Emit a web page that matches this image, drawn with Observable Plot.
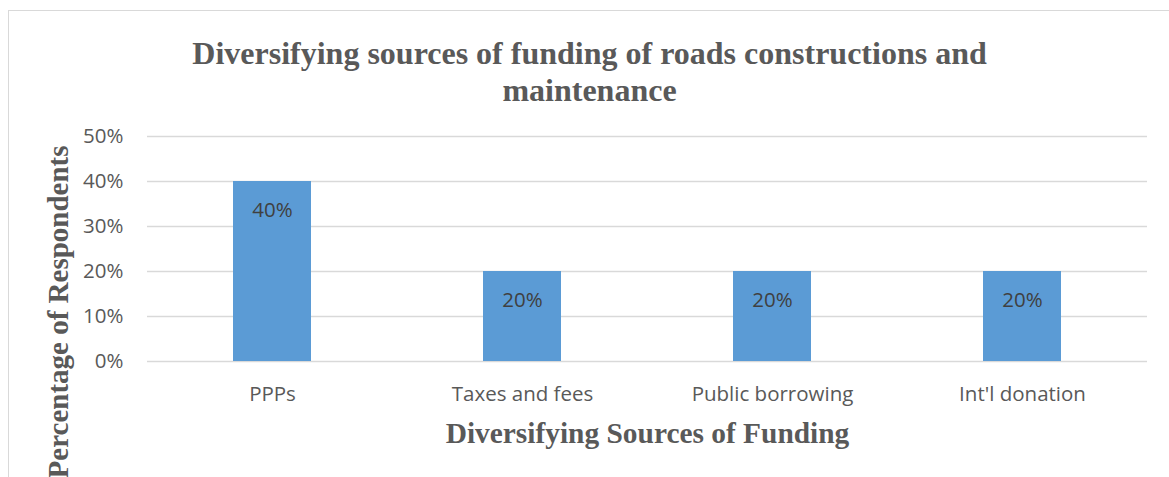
<!DOCTYPE html>
<html>
<head>
<meta charset="utf-8">
<script src="https://cdn.jsdelivr.net/npm/d3@7"></script>
<script src="https://cdn.jsdelivr.net/npm/@observablehq/plot@0.6"></script>
<style>
  html, body { margin: 0; padding: 0; background: #fff; }
  #wrap { position: relative; width: 1169px; height: 477px; overflow: hidden; }
  #frame { position: absolute; left: 7.5px; top: 9.5px; width: 1200px; height: 500px;
           border-left: 1.5px solid #d9d9d9; border-top: 1.5px solid #d9d9d9; pointer-events: none; }
</style>
</head>
<body>
<div id="wrap"><div id="frame"></div></div>
<script>
const categories = ["PPPs", "Taxes and fees", "Public borrowing", "Int'l donation"];
const values = [0.40, 0.20, 0.20, 0.20];
const yTicks = [0, 0.1, 0.2, 0.3, 0.4, 0.5];
const titleText = "Diversifying sources of funding of roads constructions and\nmaintenance";
const xTitle = "Diversifying Sources of Funding";
const yTitle = "Percentage of Respondents";

const data = categories.map((c, i) => ({category: c, value: values[i]}));
const pct = d3.format(".0%");
const serif = "'Liberation Serif', 'Times New Roman', serif";

const chart = Plot.plot({
  width: 1169,
  height: 477,
  marginLeft: 147,
  marginRight: 22,
  marginTop: 136,
  marginBottom: 116,
  style: {fontFamily: "'Open Sans', sans-serif", fontSize: "20.5px", color: "#595959", background: "transparent", overflow: "visible"},
  x: {domain: categories, paddingInner: 0.688, paddingOuter: 0.344},
  y: {domain: [0, 0.5]},
  marks: [
    Plot.gridY(yTicks, {stroke: "#d9d9d9", strokeOpacity: 1, strokeWidth: 1.5}),
    Plot.barY(data, {x: "category", y: "value", fill: "#5b9bd5"}),
    Plot.text(data, {x: "category", y: "value", text: d => pct(d.value), dy: 29, fill: "#404040", fontSize: 20.5}),
    Plot.axisY(yTicks, {tickFormat: pct, tickSize: 0, tickPadding: 24, label: null, fill: "#595959", fontSize: 20.5}),
    Plot.axisX({tickSize: 0, tickPadding: 25, label: null, fill: "#595959", fontSize: 20.5}),
    Plot.text([titleText], {frameAnchor: "top", text: d => d, dx: -58, dy: -98.7, lineAnchor: "top", lineHeight: 1.156,
      fontFamily: serif, fontWeight: "bold", fontSize: 32, fill: "#595959"}),
    Plot.text([xTitle], {frameAnchor: "bottom", text: d => d, dy: 61.1, lineAnchor: "top",
      fontFamily: serif, fontWeight: "bold", fontSize: 29.4, fill: "#595959"}),
    Plot.text([yTitle], {frameAnchor: "left", text: d => d, rotate: -90, textAnchor: "end", lineAnchor: "bottom",
      dx: -80, dy: -103.5, fontFamily: serif, fontWeight: "bold", fontSize: 29, fill: "#595959"})
  ]
});
document.getElementById("wrap").prepend(chart);
</script>
</body>
</html>
